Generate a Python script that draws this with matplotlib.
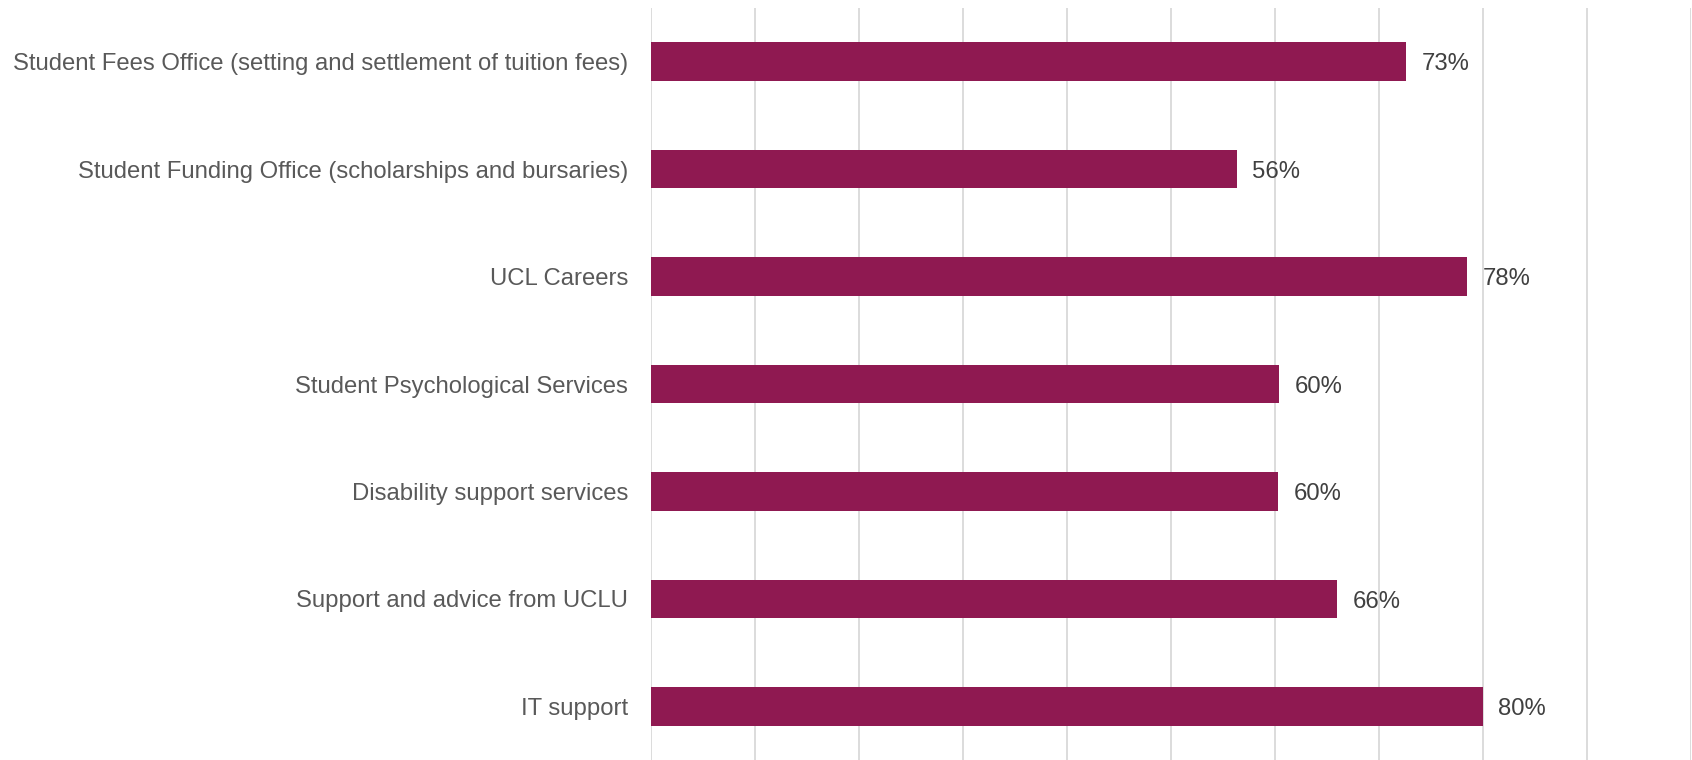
import matplotlib.pyplot as plt

categories = [
    'Student Fees Office (setting and settlement of tuition fees)',
    'Student Funding Office (scholarships and bursaries)',
    'UCL Careers',
    'Student Psychological Services',
    'Disability support services',
    'Support and advice from UCLU',
    'IT support',
]
values = [0.726, 0.563, 0.785, 0.604, 0.603, 0.66, 0.80]
labels = ['73%', '56%', '78%', '60%', '60%', '66%', '80%']

plt.rcParams['font.family'] = ['Liberation Sans', 'DejaVu Sans']

fig = plt.figure(figsize=(16.92, 7.6), dpi=100)
ax = fig.add_axes((651 / 1692, 0.0, 1040 / 1692, 1 - 8 / 760))

y = list(range(len(categories)))
ax.barh(y, values, height=0.36, color='#8F1951', zorder=3)

# value labels just right of each bar
for yi, v, lab in zip(y, values, labels):
    ax.annotate(lab, (v, yi), xytext=(11, -2), textcoords='offset points',
                va='center', ha='left', fontsize=17.2, color='#404040')

ax.set_xlim(0, 1.0)
ax.set_ylim(len(categories) - 0.5, -0.5)
ax.set_xticks([i / 10 for i in range(11)])
ax.xaxis.grid(True, color='#D9D9D9', linewidth=1.3, zorder=0)
ax.tick_params(axis='x', length=0, labelbottom=False)
ax.set_yticks(y)
ax.set_yticklabels(categories, fontsize=17.2, color='#595959')
ax.tick_params(axis='y', length=0, pad=16.5)
for s in ax.spines.values():
    s.set_visible(False)

fig.savefig('out.png', dpi=100)
